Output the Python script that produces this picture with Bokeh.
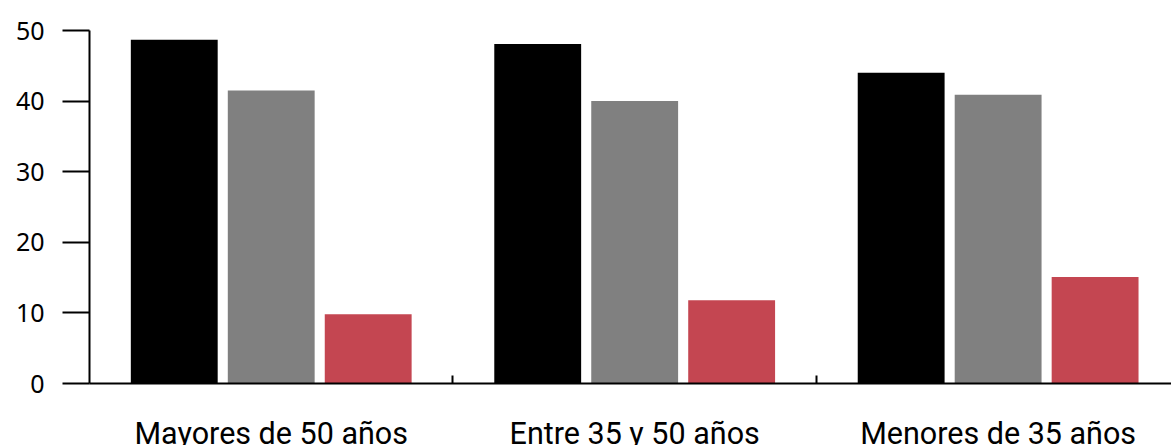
from bokeh.plotting import figure
from bokeh.models import Range1d, FixedTicker
from bokeh.layouts import column
from bokeh.core.properties import value
from bokeh.embed import file_html
from bokeh.resources import INLINE

# ---- data ----
groups = ["Mayores de 50 años", "Entre 35 y 50 años", "Menores de 35 años"]
serie_a = [48.7, 48.1, 44.0]
serie_b = [41.5, 40.0, 40.9]
serie_c = [9.8, 11.8, 15.1]
y_ticks = [0, 10, 20, 30, 40, 50]

series = [serie_a, serie_b, serie_c]
colors = ["#000000", "#808080", "#C44651"]

x_range = Range1d(0, 2.977)

p = figure(width=1171, height=402, output_backend="svg", toolbar_location=None,
           x_range=x_range, y_range=Range1d(0, 50),
           min_border_left=89, min_border_right=0, min_border_top=30,
           min_border_bottom=19)
p.outline_line_color = None
p.grid.visible = False
p.background_fill_color = "white"

centers = [i + 0.5 for i in range(len(groups))]
for k, (vals, col) in enumerate(zip(series, colors)):
    off = (k - 1) * 0.2668
    p.vbar(x=[c + off for c in centers], top=vals, bottom=0, width=0.239,
           fill_color=col, line_color=None)

xa = p.xaxis[0]
xa.ticker = FixedTicker(ticks=[], minor_ticks=[i for i in range(1, len(groups))])
xa.major_tick_line_color = None
xa.major_tick_in = 0
xa.major_tick_out = 0
xa.major_label_standoff = 0
xa.minor_tick_in = 8
xa.minor_tick_out = 0
xa.minor_tick_line_color = "black"
xa.minor_tick_line_width = 2
xa.axis_line_width = 2
xa.axis_line_color = "black"

ya = p.yaxis[0]
ya.ticker = FixedTicker(ticks=y_ticks)
ya.major_tick_in = 0
ya.major_tick_out = 27
ya.major_tick_line_width = 2
ya.major_tick_line_color = "black"
ya.axis_line_width = 2
ya.axis_line_color = "black"
ya.major_label_text_font = "Noto Sans"
ya.major_label_text_font_size = "25px"
ya.major_label_text_color = "black"
ya.major_label_standoff = 18

# strip with the group labels, sharing the x scale
q = figure(width=1171, height=43, output_backend="svg", toolbar_location=None,
           x_range=x_range, y_range=Range1d(0, 1),
           x_axis_location=None, y_axis_location=None,
           min_border_left=89, min_border_right=0, min_border_top=0,
           min_border_bottom=0)
q.outline_line_color = None
q.grid.visible = False
q.text(x=centers, y=[0] * len(groups), text=groups, y_offset=-12,
       text_align="center", text_baseline="alphabetic",
       text_font=value("Roboto"), text_font_size="30.5px", text_color="black")

layout = column(p, q, spacing=0)
open("out.html", "w").write(file_html(layout, INLINE))
